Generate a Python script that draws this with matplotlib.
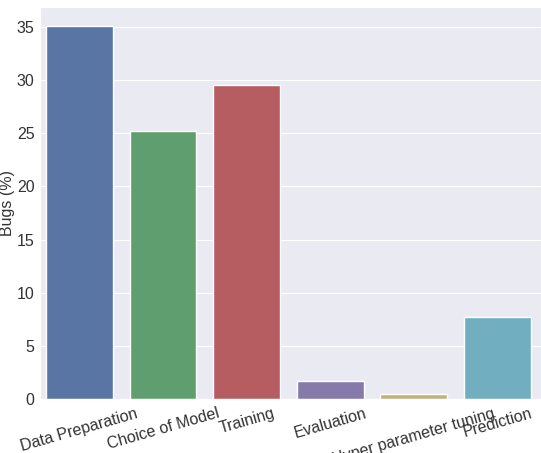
"""Share of bugs per ML pipeline stage, seaborn darkgrid bar chart."""
import matplotlib
matplotlib.use("Agg")
import matplotlib.pyplot as plt  # noqa: E402
import seaborn as sns  # noqa: E402

STAGES = ["Data Preparation", "Choice of Model", "Training", "Evaluation",
          "Hyper parameter tuning", "Prediction"]
BUGS_PCT = [35.1, 25.2, 29.5, 1.7, 0.5, 7.7]
PALETTE = ["#4C72B0", "#55A868", "#C44E52", "#8172B2", "#CCB974", "#64B5CD"]

sns.set_style("darkgrid")
plt.rcParams["font.family"] = ["Liberation Sans", "DejaVu Sans"]

fig = plt.figure(figsize=(5.41, 4.53), dpi=100)
ax = fig.add_axes([0.074, 0.119, 0.926, 0.866])
sns.barplot(x=STAGES, y=BUGS_PCT, hue=STAGES, palette=PALETTE, legend=False,
            ax=ax)
ax.set_ylabel("Bugs (%)", fontsize=11.5, color="#333333", labelpad=1)
ax.tick_params(axis="both", labelsize=11.5, colors="#333333", length=0)
ax.tick_params(axis="y", pad=4)
ax.tick_params(axis="x", pad=5)
plt.setp(ax.get_xticklabels(), rotation=16, ha="center")
ax.set_xlim(-0.47, 5.52)
ax.set_ylim(0, 36.9)

fig.savefig("out.png", dpi=100)
